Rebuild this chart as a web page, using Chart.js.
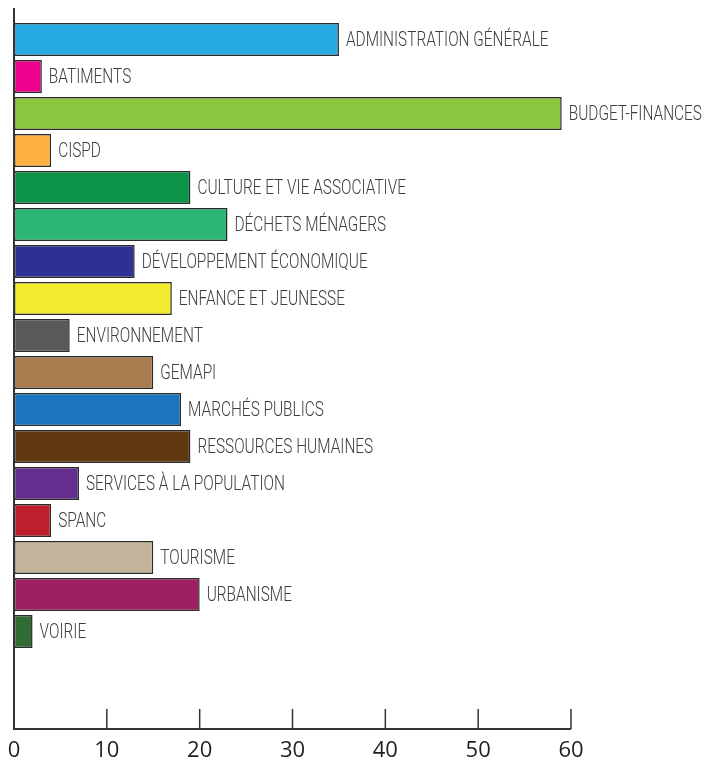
<!DOCTYPE html>
<html>
<head>
<meta charset="utf-8">
<script src="https://cdn.jsdelivr.net/npm/chart.js@4"></script>
<style>
  body { margin: 0; background: #fff; }
  #wrap { width: 706px; height: 763px; }
</style>
</head>
<body>
<div id="wrap"><canvas id="chart" width="706" height="763"></canvas></div>
<script>
// Services / categories
const categories = [
    'ADMINISTRATION GÉNÉRALE', 'BATIMENTS', 'BUDGET-FINANCES', 'CISPD',
    'CULTURE ET VIE ASSOCIATIVE', 'DÉCHETS MÉNAGERS', 'DÉVELOPPEMENT ÉCONOMIQUE',
    'ENFANCE ET JEUNESSE', 'ENVIRONNEMENT', 'GEMAPI', 'MARCHÉS PUBLICS',
    'RESSOURCES HUMAINES', 'SERVICES À LA POPULATION', 'SPANC', 'TOURISME',
    'URBANISME', 'VOIRIE'
];
const values = [35, 3, 59, 4, 19, 23, 13, 17, 6, 15, 18, 19, 7, 4, 15, 20, 2];
const barColors = [
    '#27aae1', '#ec008c', '#8dc63f', '#fbb040', '#0c9347', '#2bb673', '#2e3192',
    '#f3ea30', '#58595b', '#a97c50', '#1c75bc', '#603913', '#662d91', '#be1e2d',
    '#c2b59b', '#9e1f63', '#336b35'
];
const xTicks = [0, 10, 20, 30, 40, 50, 60];

// two empty slots at the bottom, like the original layout
const labels = categories.concat(['', '']);
const data = values.concat([null, null]);

// draws the axis lines and the inward tick marks
const axisPlugin = {
    id: 'axisLines',
    afterDraw(chart) {
        const ctx = chart.ctx;
        const x = chart.scales.x;
        const base = chart.chartArea.bottom + 5;
        ctx.save();
        ctx.strokeStyle = '#333';
        ctx.lineWidth = 2;
        ctx.beginPath();
        ctx.moveTo(x.getPixelForValue(0), 8);
        ctx.lineTo(x.getPixelForValue(0), base);
        ctx.lineTo(x.getPixelForValue(60), base);
        ctx.stroke();
        ctx.lineWidth = 1.5;
        xTicks.forEach(t => {
            const px = x.getPixelForValue(t);
            ctx.beginPath();
            ctx.moveTo(px, base - 20);
            ctx.lineTo(px, base);
            ctx.stroke();
        });
        ctx.restore();
    }
};

// category name written just after each bar
const barLabels = {
    id: 'barLabels',
    afterDatasetsDraw(chart) {
        const ctx = chart.ctx;
        const meta = chart.getDatasetMeta(0);
        ctx.save();
        ctx.font = '300 20px Roboto, sans-serif';
        ctx.fillStyle = '#3d3d3d';
        ctx.textBaseline = 'middle';
        meta.data.forEach((bar, i) => {
            if (i >= categories.length) return;
            ctx.save();
            ctx.translate(bar.x + 7, bar.y + 1);
            ctx.scale(0.77, 1);  // condensed look
            ctx.fillText(categories[i], 0, 0);
            ctx.restore();
        });
        ctx.restore();
    }
};

new Chart(document.getElementById('chart'), {
    type: 'bar',
    data: {
        labels: labels,
        datasets: [{
            data: data,
            backgroundColor: barColors,
            borderColor: '#2a2a2a',
            borderWidth: 1.5,
            borderSkipped: false,
            categoryPercentage: 1,
            barPercentage: 0.89
        }]
    },
    options: {
        indexAxis: 'y',
        responsive: false,
        animation: false,
        layout: { padding: { top: 21, left: 14, right: 135, bottom: -15 } },
        plugins: {
            legend: { display: false },
            tooltip: { enabled: false }
        },
        scales: {
            x: {
                min: 0,
                max: 60,
                afterBuildTicks: axis => { axis.ticks = xTicks.map(v => ({ value: v })); },
                grid: { display: false, drawTicks: false },
                border: { display: false },
                ticks: {
                    padding: 0,
                    color: '#231f20',
                    font: { family: '"Open Sans", sans-serif', size: 22, lineHeight: '54px' }
                }
            },
            y: {
                display: false
            }
        }
    },
    plugins: [axisPlugin, barLabels]
});
</script>
</body>
</html>
